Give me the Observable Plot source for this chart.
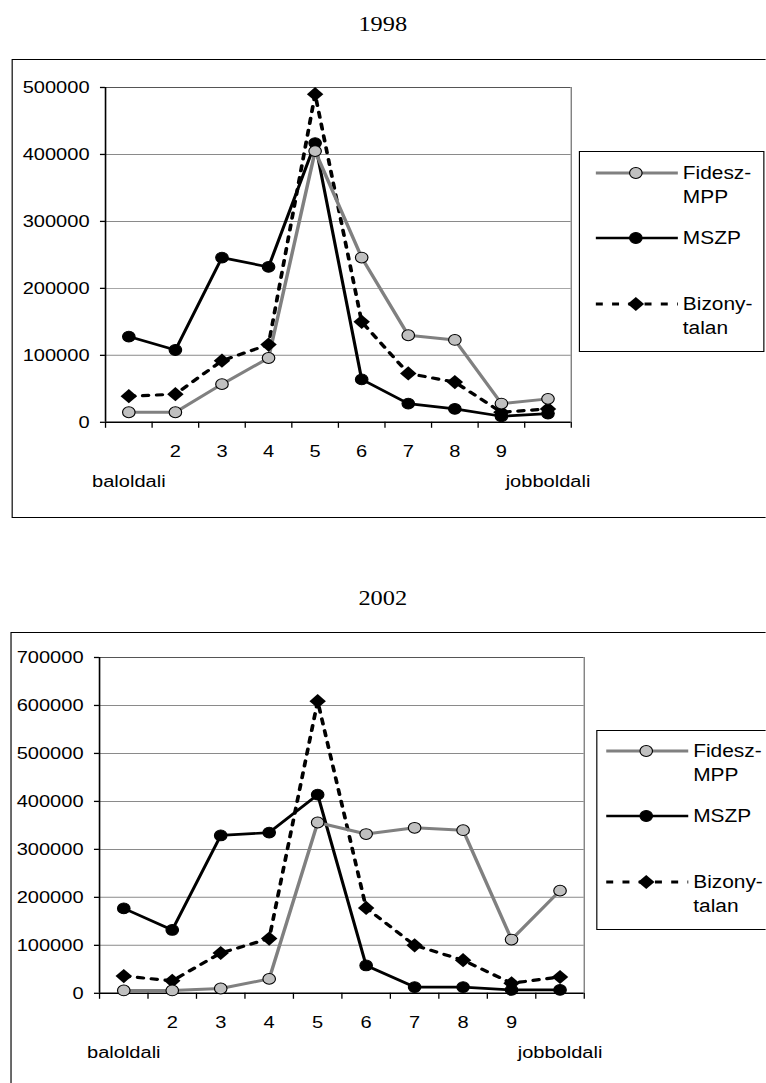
<!DOCTYPE html>
<html>
<head>
<meta charset="utf-8">
<script src="https://cdn.jsdelivr.net/npm/d3@7"></script>
<script src="https://cdn.jsdelivr.net/npm/@observablehq/plot@0.6"></script>
<style>
  html, body { margin: 0; padding: 0; background: #fff; overflow: hidden; }
  #page { position: relative; width: 660px; height: 1083px; transform: scaleX(1.16); transform-origin: 0 0; overflow: hidden; font-family: "Liberation Sans", Arial, sans-serif; }
  .title { position: absolute; left: 0; width: 660px; text-align: center; font-family: "Liberation Serif", "Times New Roman", serif; font-size: 21px; line-height: 21px; color: #000; }
  .frame { position: absolute; border: 1.4px solid #000; box-sizing: border-box; }
  .legend { position: absolute; border: 1.2px solid #000; box-sizing: border-box; background: #fff; }
  .chart { position: absolute; left: 0; }
</style>
</head>
<body>
<div id="page"></div>
<script>
// ---- data ----
const categories = [1, 2, 3, 4, 5, 6, 7, 8, 9, 10];
const tickLabels = ["", "2", "3", "4", "5", "6", "7", "8", "9", ""];
const endLabels = ["baloldali", "", "", "", "", "", "", "", "", "jobboldali"];
const seriesNames = ["Fidesz-MPP", "MSZP", "Bizonytalan"];
const legendLines = [["Fidesz-", "MPP"], ["MSZP"], ["Bizony-", "talan"]];

const fidesz1998 = [15000, 15000, 57000, 96000, 405000, 246000, 130000, 123000, 28000, 35000];
const mszp1998   = [128000, 108000, 246000, 232000, 417000, 64000, 28000, 20000, 9000, 13000];
const biz1998    = [39000, 42000, 92000, 116000, 490000, 150000, 73000, 60000, 15000, 20000];
const yTicks1998 = [0, 100000, 200000, 300000, 400000, 500000];

const fidesz2002 = [6000, 6000, 10000, 30000, 356000, 332000, 345000, 340000, 112000, 214000];
const mszp2002   = [177000, 132000, 329000, 335000, 414000, 58000, 13000, 13000, 7000, 7000];
const biz2002    = [36000, 26000, 84000, 114000, 609000, 178000, 100000, 69000, 21000, 34000];
const yTicks2002 = [0, 100000, 200000, 300000, 400000, 500000, 600000, 700000];

// ---- layout helpers ----
const SX = 1.16;            // horizontal stretch of the reference
const W = 766 / SX;
const FS = "17.3px";
const page = document.getElementById("page");

function el(tag, cls, style, text) {
  const e = document.createElement(tag);
  if (cls) e.className = cls;
  Object.assign(e.style, style || {});
  if (text != null) e.textContent = text;
  page.appendChild(e);
  return e;
}

const styles = [
  {stroke: "#808080", strokeWidth: 3, dash: null, symbol: "circle", fill: "#c0c0c0", r: 5.4, mstroke: "#000"},
  {stroke: "#000", strokeWidth: 2.7, dash: null, symbol: "circle", fill: "#000", r: 5.4, mstroke: "#000"},
  {stroke: "#000", strokeWidth: 3.2, dash: "5,7", symbol: "diamond2", fill: "#000", r: 6.4, mstroke: "none"}
];

function chart(cfg) {
  const rows = [];
  cfg.series.forEach((vals, si) => vals.forEach((v, i) => rows.push({s: seriesNames[si], cat: categories[i], v})));
  const bySeries = seriesNames.map(n => rows.filter(r => r.s === n));
  const boundaries = [...categories.map(c => c - 0.5), categories[categories.length - 1] + 0.5];
  const yMax = cfg.yTicks[cfg.yTicks.length - 1];

  const lineOrder = [2, 1, 0];
  const dotOrder = [1, 2, 0];
  const marks = [
    Plot.gridY(cfg.yTicks.slice(1, -1), {stroke: "#8a8a8a", strokeOpacity: 1, strokeWidth: 1}),
    Plot.ruleY([yMax], {stroke: "#555", strokeWidth: 1.2}),
    Plot.ruleX([boundaries[boundaries.length - 1]], {stroke: "#808080", strokeWidth: 1.2}),
    Plot.ruleX([boundaries[0]], {stroke: "#000", strokeWidth: 1.4}),
    Plot.ruleY([0], {stroke: "#000", strokeWidth: 1.5}),
    Plot.axisY(cfg.yTicks, {tickSize: 5 / SX, tickPadding: 11 / SX, tickFormat: d => String(d), stroke: "#000", strokeWidth: 1.3, label: null, fontSize: FS}),
    Plot.axisX(boundaries, {tickSize: 6, tickFormat: () => "", stroke: "#000", strokeWidth: 1.3 / SX, label: null}),
    Plot.axisX(categories, {tickSize: 0, tickPadding: 22, tickFormat: d => tickLabels[categories.indexOf(d)], label: null, fontSize: FS}),
    Plot.axisX(categories, {tickSize: 0, tickPadding: 52, tickFormat: d => endLabels[categories.indexOf(d)], label: null, fontSize: FS})
  ];
  lineOrder.forEach(si => {
    const st = styles[si];
    marks.push(Plot.line(bySeries[si], {x: "cat", y: "v", stroke: st.stroke, strokeWidth: st.strokeWidth, strokeDasharray: st.dash, strokeLinejoin: "miter"}));
  });
  dotOrder.forEach(si => {
    const st = styles[si];
    marks.push(Plot.dot(bySeries[si], {x: "cat", y: "v", r: st.r, symbol: st.symbol, fill: st.fill, stroke: st.mstroke, strokeWidth: 1 }));
  });

  const svg = Plot.plot({
    width: W,
    height: cfg.height,
    marginLeft: cfg.plotLeft / SX,
    marginRight: (766 - cfg.plotRight) / SX,
    marginTop: cfg.plotTop - cfg.top,
    marginBottom: cfg.top + cfg.height - cfg.plotBottom,
    x: {type: "linear", domain: [boundaries[0], boundaries[boundaries.length - 1]], axis: null, label: null},
    y: {domain: [0, yMax], axis: null, label: null},
    style: {fontFamily: "'Liberation Sans', Arial, sans-serif", fontSize: FS, color: "#000", background: "transparent", overflow: "visible"},
    marks
  });
  svg.classList.add("chart");
  svg.style.top = cfg.top + "px";
  svg.style.position = "absolute";
  svg.style.left = "0px";

  // outer frame
  el("div", "frame", {left: (cfg.frameLeft / SX) + "px", top: cfg.frameTop + "px", width: ((cfg.frameRight - cfg.frameLeft) / SX) + "px", height: (cfg.frameBottom - cfg.frameTop) + "px"});
  page.appendChild(svg);
  el("div", "title", {top: cfg.titleTop + "px"}, cfg.title);

  // legend
  const L = cfg.legend;
  const lw = (L.right - L.left) / SX, lh = L.bottom - L.top;
  const box = el("div", "legend", {left: (L.left / SX) + "px", top: L.top + "px", width: lw + "px", height: lh + "px"});
  const ns = "http://www.w3.org/2000/svg";
  const ls = document.createElementNS(ns, "svg");
  ls.setAttribute("width", lw); ls.setAttribute("height", lh);
  ls.style.position = "absolute"; ls.style.left = "-1px"; ls.style.top = "-1px"; ls.style.overflow = "visible";
  box.appendChild(ls);
  seriesNames.forEach((name, si) => {
    const st = styles[si];
    const cy = L.rows[si];
    const x0 = (L.lineX0 - L.left) / SX, x1 = (L.lineX1 - L.left) / SX, xm = (L.markX - L.left) / SX;
    const line = document.createElementNS(ns, "line");
    line.setAttribute("x1", x0); line.setAttribute("x2", x1); line.setAttribute("y1", cy); line.setAttribute("y2", cy);
    line.setAttribute("stroke", st.stroke); line.setAttribute("stroke-width", st.strokeWidth);
    if (st.dash) line.setAttribute("stroke-dasharray", "6,8");
    ls.appendChild(line);
    let m;
    if (st.symbol === "circle") {
      m = document.createElementNS(ns, "circle");
      m.setAttribute("cx", xm); m.setAttribute("cy", cy); m.setAttribute("r", st.r);
      m.setAttribute("stroke", st.mstroke); m.setAttribute("stroke-width", 1);
    } else {
      m = document.createElementNS(ns, "path");
      m.setAttribute("d", d3.symbol(d3.symbolDiamond2, Math.PI * st.r * st.r)());
      m.setAttribute("transform", `translate(${xm},${cy})`);
    }
    m.setAttribute("fill", st.fill);
    ls.appendChild(m);
    legendLines[si].forEach((t, k) => {
      const tx = document.createElementNS(ns, "text");
      tx.setAttribute("x", (L.textX - L.left) / SX);
      tx.setAttribute("y", cy + 6 + k * 24);
      tx.setAttribute("font-size", "18px");
      tx.setAttribute("font-family", "'Liberation Sans', Arial, sans-serif");
      tx.textContent = t;
      ls.appendChild(tx);
    });
  });
}

chart({
  title: "1998", titleTop: 14,
  series: [fidesz1998, mszp1998, biz1998], yTicks: yTicks1998,
  top: 59, height: 458,
  plotLeft: 105, plotRight: 571, plotTop: 87, plotBottom: 422,
  frameLeft: 12, frameRight: 820, frameTop: 59, frameBottom: 518,
  legend: {left: 579, right: 764, top: 151, bottom: 352, rows: [22, 87, 153], lineX0: 596, lineX1: 678, markX: 636, textX: 683}
});

chart({
  title: "2002", titleTop: 588,
  series: [fidesz2002, mszp2002, biz2002], yTicks: yTicks2002,
  top: 632, height: 451,
  plotLeft: 99, plotRight: 584, plotTop: 657, plotBottom: 993,
  frameLeft: 10, frameRight: 820, frameTop: 632, frameBottom: 1120,
  legend: {left: 596, right: 820, top: 730, bottom: 930, rows: [21, 86, 152], lineX0: 606, lineX1: 688, markX: 646, textX: 693}
});
</script>
</body>
</html>
